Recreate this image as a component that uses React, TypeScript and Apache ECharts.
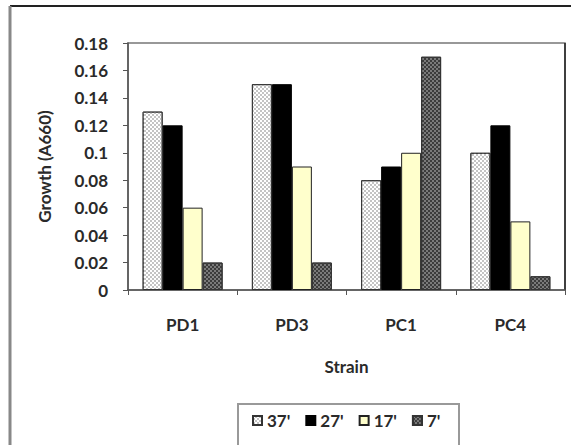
import React, { useEffect, useRef } from "react";
import * as echarts from "echarts";

const categories = ["PD1", "PD3", "PC1", "PC4"];
const seriesNames = ["37'", "27'", "17'", "7'"];
const s37 = [0.13, 0.15, 0.08, 0.1];
const s27 = [0.12, 0.15, 0.09, 0.12];
const s17 = [0.06, 0.09, 0.1, 0.05];
const s7 = [0.02, 0.02, 0.17, 0.01];

const FONT = "Lato";
const TXT = "#2a2a2a";
const FS = 17;

export default function App() {
  const ref = useRef<HTMLDivElement>(null);
  useEffect(() => {
    document.body.style.margin = "0";
    const chart = echarts.init(ref.current!, null, { renderer: "svg" });
    const checker = (color: string) => ({
      symbol: "rect",
      symbolSize: 1,
      color,
      dashArrayX: [[2, 2], [0, 2, 2, 0]],
      dashArrayY: [2, 0],
      rotation: 0,
    });
    const styles = [
      { color: "#ffffff", borderColor: "#333", borderWidth: 1, decal: checker("#c4c4c4") },
      { color: "#000000", borderColor: "#000", borderWidth: 1 },
      { color: "#ffffcc", borderColor: "#222", borderWidth: 1 },
      { color: "#7a7a7a", borderColor: "#333", borderWidth: 1, decal: checker("#3c3c3c") },
    ];
    const data = [s37, s27, s17, s7];
    const txt = { fontFamily: FONT, fontWeight: "bold", fontSize: FS, color: TXT };
    chart.setOption({
      animation: false,
      textStyle: { fontFamily: FONT },
      grid: {
        left: 128,
        top: 43,
        right: 6,
        bottom: 155,
        show: true,
        borderColor: "#777",
        borderWidth: 1.5,
        backgroundColor: "transparent",
      },
      legend: {
        left: 252,
        top: 412,
        padding: 0,
        icon: "rect",
        itemWidth: 9,
        itemHeight: 9,
        itemGap: 15,
        textStyle: txt,
        data: seriesNames,
      },
      xAxis: {
        type: "category",
        data: categories,
        name: "Strain",
        nameLocation: "middle",
        nameGap: 68,
        nameTextStyle: txt,
        axisLine: { lineStyle: { color: "#555", width: 1.5 } },
        axisTick: { show: true, length: 5, lineStyle: { color: "#555" } },
        axisLabel: { margin: 26, ...txt },
      },
      yAxis: {
        type: "value",
        min: 0,
        max: 0.18,
        interval: 0.02,
        name: "Growth (A660)",
        nameLocation: "middle",
        nameGap: 75,
        nameTextStyle: txt,
        splitLine: { show: false },
        axisLine: { show: true, lineStyle: { color: "#555", width: 1.5 } },
        axisTick: { show: true, length: 5, lineStyle: { color: "#555" } },
        axisLabel: {
          margin: 20,
          ...txt,
          formatter: (v: number) => String(parseFloat(v.toFixed(2))),
        },
      },
      series: seriesNames.map((name, i) => ({
        name,
        type: "bar",
        data: data[i],
        barGap: "0%",
        barCategoryGap: "26.8%",
        itemStyle: styles[i],
      })),
      graphic: [
        { type: "line", shape: { x1: 10, y1: 6, x2: 571, y2: 6 }, style: { stroke: "#222", lineWidth: 2 }, silent: true },
        { type: "line", shape: { x1: 10, y1: 6, x2: 10, y2: 445 }, style: { stroke: "#888", lineWidth: 3 }, silent: true },
        { type: "line", shape: { x1: 565, y1: 43, x2: 565, y2: 290 }, style: { stroke: "#222", lineWidth: 1.5 }, silent: true },
        { type: "rect", shape: { x: 238, y: 404, width: 221, height: 60 }, style: { fill: "none", stroke: "#999", lineWidth: 2 }, silent: true },
      ],
    });
    return () => chart.dispose();
  }, []);
  return <div ref={ref} style={{ width: 571, height: 445 }} />;
}
